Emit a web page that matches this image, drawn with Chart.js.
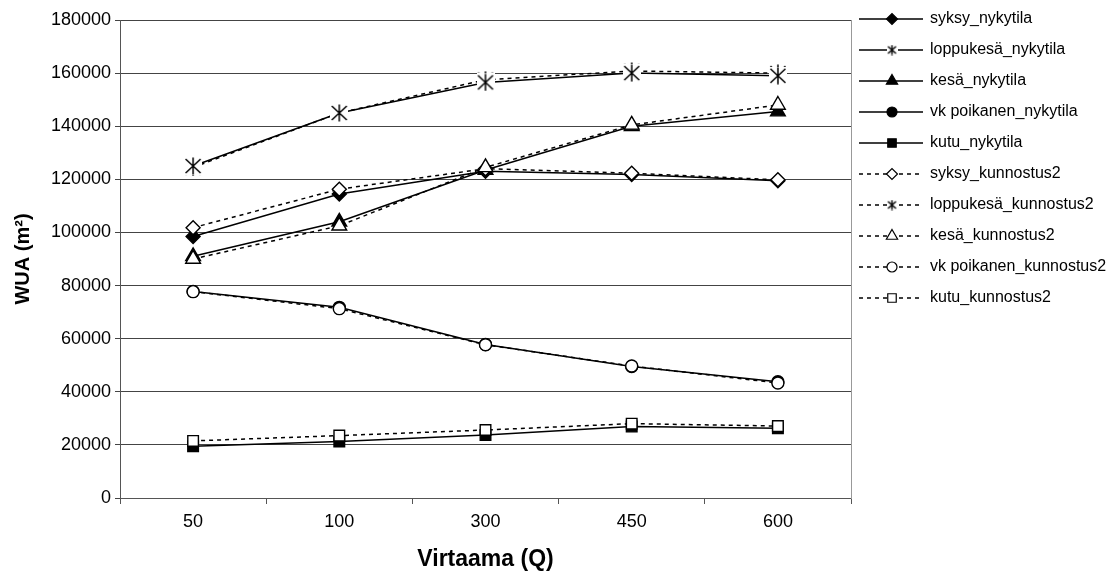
<!DOCTYPE html>
<html lang="fi">
  <head>
    <meta charset="UTF-8" />
    <title>WUA – Virtaama</title>
    <script src="https://cdn.jsdelivr.net/npm/chart.js@4.4.1/dist/chart.umd.min.js"></script>
    <style>
      html, body { margin: 0; padding: 0; background: #fff; }
      #wrap { width: 1110px; height: 571px; position: relative; }
    </style>
  </head>
  <body>
    <div id="wrap"><canvas id="wuaChart"></canvas></div>
    <script>
      // virtaama-luokat (x-akseli)
      const virtaamat = ["50", "100", "300", "450", "600"];

      // nykytila
      const syksyNyky = [98500, 114500, 123000, 121800, 119500];
      const loppukesaNyky = [125000, 145000, 156500, 160000, 159000];
      const kesaNyky = [91000, 104000, 123500, 140000, 145500];
      const vkPoikanenNyky = [77800, 71800, 57800, 49500, 43800];
      const kutuNyky = [19500, 21300, 23700, 26900, 26300];

      // kunnostus2
      const syksyKunn = [101800, 116300, 124000, 122300, 119800];
      const loppukesaKunn = [124500, 145000, 157500, 160800, 160000];
      const kesaKunn = [90000, 102500, 124500, 140500, 148000];
      const vkPoikanenKunn = [77700, 71300, 57700, 49700, 43300];
      const kutuKunn = [21500, 23500, 25600, 28000, 27100];

      // y-akselin asteikko
      const yMin = 0;
      const yMax = 180000;
      const yStep = 20000;

      const FONT = "'Liberation Sans', Arial, sans-serif";

      // Excelin tähtimerkki (pystyviiva + X), valkoinen tausta katkaisee viivan
      function asterisk(size, lw) {
        const c = document.createElement("canvas");
        c.width = size;
        c.height = size;
        const g = c.getContext("2d");
        g.fillStyle = "#fff";
        g.fillRect(0, 0, size, size);
        g.strokeStyle = "#000";
        g.lineWidth = lw;
        const m = size / 2;
        g.beginPath();
        g.moveTo(m, 0.5);
        g.lineTo(m, size - 0.5);
        g.moveTo(1.5, 2);
        g.lineTo(size - 1.5, size - 2);
        g.moveTo(1.5, size - 2);
        g.lineTo(size - 1.5, 2);
        g.stroke();
        return c;
      }
      const starBig = asterisk(18, 1.5);
      const starSmall = asterisk(11, 1.4);

      const solid = [];
      const dotted = [4, 4];

      function series(label, data, style, radius, fill, dash, legendStyle, legendRadius, order) {
        return {
          label: label,
          data: data,
          borderColor: "#000",
          borderWidth: 1.5,
          borderDash: dash,
          pointStyle: style,
          pointRadius: radius,
          pointHoverRadius: radius,
          pointBackgroundColor: fill,
          pointBorderColor: "#000",
          pointBorderWidth: 1.4,
          legendStyle: legendStyle,
          legendRadius: legendRadius,
          tension: 0,
          fill: false,
          order: order,
        };
      }

      const datasets = [
        series("syksy_nykytila", syksyNyky, "rectRot", 7, "#000", solid, "rectRot", 5.5, 10),
        series("loppukesä_nykytila", loppukesaNyky, starBig, 8, "#000", solid, starSmall, 5, 0),
        series("kesä_nykytila", kesaNyky, "triangle", 8.5, "#000", solid, "triangle", 6.5, 8),
        series("vk poikanen_nykytila", vkPoikanenNyky, "circle", 6, "#000", solid, "circle", 5, 7),
        series("kutu_nykytila", kutuNyky, "rect", 7.5, "#000", solid, "rect", 6, 6),
        series("syksy_kunnostus2", syksyKunn, "rectRot", 7, "#fff", dotted, "rectRot", 5.5, 5),
        series("loppukesä_kunnostus2", loppukesaKunn, starBig, 8, "#fff", dotted, starSmall, 5, 4),
        series("kesä_kunnostus2", kesaKunn, "triangle", 8.5, "#fff", dotted, "triangle", 6.5, 3),
        series("vk poikanen_kunnostus2", vkPoikanenKunn, "circle", 6, "#fff", dotted, "circle", 5, 2),
        series("kutu_kunnostus2", kutuKunn, "rect", 7.5, "#fff", dotted, "rect", 6, 1),
      ];

      // selite oikealle: viiva + merkki + teksti
      const sideLegend = {
        id: "sideLegend",
        afterDraw(chart) {
          const ctx = chart.ctx;
          const x0 = chart.chartArea.right + 8;
          const top = chart.chartArea.top - 1;
          chart.data.datasets.forEach((ds, i) => {
            const y = top + i * 31;
            ctx.save();
            ctx.strokeStyle = "#000";
            ctx.lineWidth = 1.5;
            ctx.setLineDash(ds.borderDash);
            ctx.beginPath();
            ctx.moveTo(x0, y);
            ctx.lineTo(x0 + 64, y);
            ctx.stroke();
            ctx.setLineDash([]);
            ctx.fillStyle = ds.pointBackgroundColor;
            ctx.strokeStyle = "#000";
            ctx.lineWidth = 1.2;
            Chart.helpers.drawPoint(
              ctx,
              { pointStyle: ds.legendStyle, radius: ds.legendRadius, borderWidth: 1.2, rotation: 0 },
              x0 + 33,
              y
            );
            ctx.fillStyle = "#000";
            ctx.font = "16px " + FONT;
            ctx.textBaseline = "middle";
            ctx.textAlign = "left";
            ctx.fillText(ds.label, x0 + 71, y);
            ctx.restore();
          });
        },
      };

      new Chart(document.getElementById("wuaChart"), {
        type: "line",
        data: { labels: virtaamat, datasets: datasets },
        plugins: [sideLegend],
        options: {
          responsive: true,
          maintainAspectRatio: false,
          animation: false,
          devicePixelRatio: 1,
          layout: { padding: { left: 0, right: 259, top: 20, bottom: 0 } },
          plugins: { legend: { display: false }, tooltip: { enabled: false } },
          scales: {
            x: {
              type: "category",
              offset: true,
              grid: { offset: true, drawOnChartArea: false, tickLength: 6, color: "#555" },
              border: { color: "#555", width: 1 },
              ticks: { color: "#000", padding: 7, font: { family: FONT, size: 18 } },
              title: {
                display: true,
                text: "Virtaama (Q)",
                color: "#000",
                padding: { top: 0, bottom: 0 },
                font: { family: FONT, size: 23, weight: "bold", lineHeight: 1 },
              },
              afterFit(scale) { scale.height = 73; },
            },
            y: {
              min: yMin,
              max: yMax,
              ticks: {
                stepSize: yStep,
                color: "#000",
                padding: 4,
                font: { family: FONT, size: 18 },
                callback: (v) => String(v),
              },
              grid: { color: "#444", tickLength: 5, lineWidth: 1 },
              border: { color: "#555", width: 1 },
              title: {
                display: true,
                text: "WUA (m²)",
                color: "#000",
                padding: { top: 13, bottom: 0 },
                font: { family: FONT, size: 20, weight: "bold", lineHeight: 1 },
              },
              afterFit(scale) { scale.width = 120; },
            },
            yRight: {
              position: "right",
              min: yMin,
              max: yMax,
              ticks: { display: false },
              grid: { drawOnChartArea: false, drawTicks: false },
              border: { color: "#999", width: 1 },
              afterFit(scale) { scale.width = 0; },
            },
          },
        },
      });
    </script>
  </body>
</html>
